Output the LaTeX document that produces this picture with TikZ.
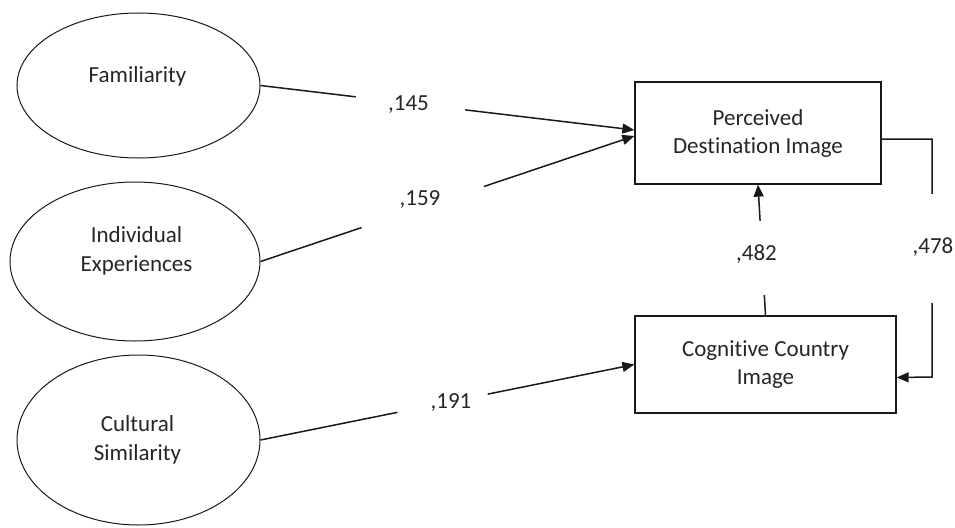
\documentclass[tikz,border=0pt]{standalone}
\usepackage{fontspec}
\setmainfont[Ligatures={NoCommon}]{Carlito}
\usetikzlibrary{shapes.geometric,arrows.meta}
\begin{document}
\begin{tikzpicture}[x=1pt,y=-1pt,
  txt/.style={font=\fontsize{23}{29}\selectfont, text=black!85, inner sep=0pt, align=center},
  latent/.style={draw=black!90, line width=1pt, ellipse, inner sep=0pt},
  obs/.style={draw=black!90, line width=1.3pt, rectangle, inner sep=0pt, align=center,
              font=\fontsize{23}{28}\selectfont, text=black!85},
  path/.style={draw=black!90, line width=1.5pt, -{Triangle[length=12pt,width=10pt]}},
  gapcut/.style={fill=white, inner sep=0pt, minimum height=5pt, sloped, rectangle},
  coef/.style={font=\fontsize{23}{28}\selectfont, text=black!85, inner sep=0pt, anchor=base}
]
\useasboundingbox (0,0) rectangle (955,527);

% latent variables
\node[latent, minimum width=243pt, minimum height=145pt] (fam) at (138.5,85.5) {};
\node[txt] (famt) at (137.5,76) {Familiarity};
\node[latent, minimum width=250pt, minimum height=159pt] (ind) at (135,261.5) {};
\node[txt] (indt) at (136.5,251) {Individual\\Experiences};
\node[latent, minimum width=243pt, minimum height=170pt] (cul) at (138.5,440) {};
\node[txt] (cult) at (137.5,440) {Cultural\\Similarity};

% observed variables
\node[obs, minimum width=246pt, minimum height=102pt] (pdi) at (758,133) {Perceived\\Destination Image};
\node[obs, minimum width=261pt, minimum height=97pt] (cci) at (765.5,364.5) {Cognitive Country\\Image};

% paths
\draw[path] (fam.east) -- node[gapcut, pos=0.401, minimum width=110pt] (g145) {} ([yshift=3pt]pdi.west);
\draw[path] (ind.east) -- node[gapcut, pos=0.434, minimum width=129pt] (g159) {} ([yshift=-3pt]pdi.west);
\draw[path] (cul.east) -- node[gapcut, pos=0.487, minimum width=92pt] (g191) {} (cci.west);
\draw[path] (cci.north) -- node[gapcut, pos=0.44, minimum width=74pt] (g482) {} (pdi.south);
\coordinate (c1) at (932,139);
\coordinate (c2) at (932,377);
\draw[path] ([yshift=-6pt]pdi.east) -- (c1) -- node[gapcut, pos=0.46, minimum width=109pt] (g478) {} (c2) -- ([yshift=-13pt]cci.east);

% coefficients
\node[coef] (l145) at (408.5,110.5) {,145};
\node[coef] (l159) at (420,205) {,159};
\node[coef] (l191) at (451,408) {,191};
\node[coef] (l482) at (756.5,260) {,482};
\node[coef] (l478) at (933,253) {,478};
\end{tikzpicture}
\end{document}
